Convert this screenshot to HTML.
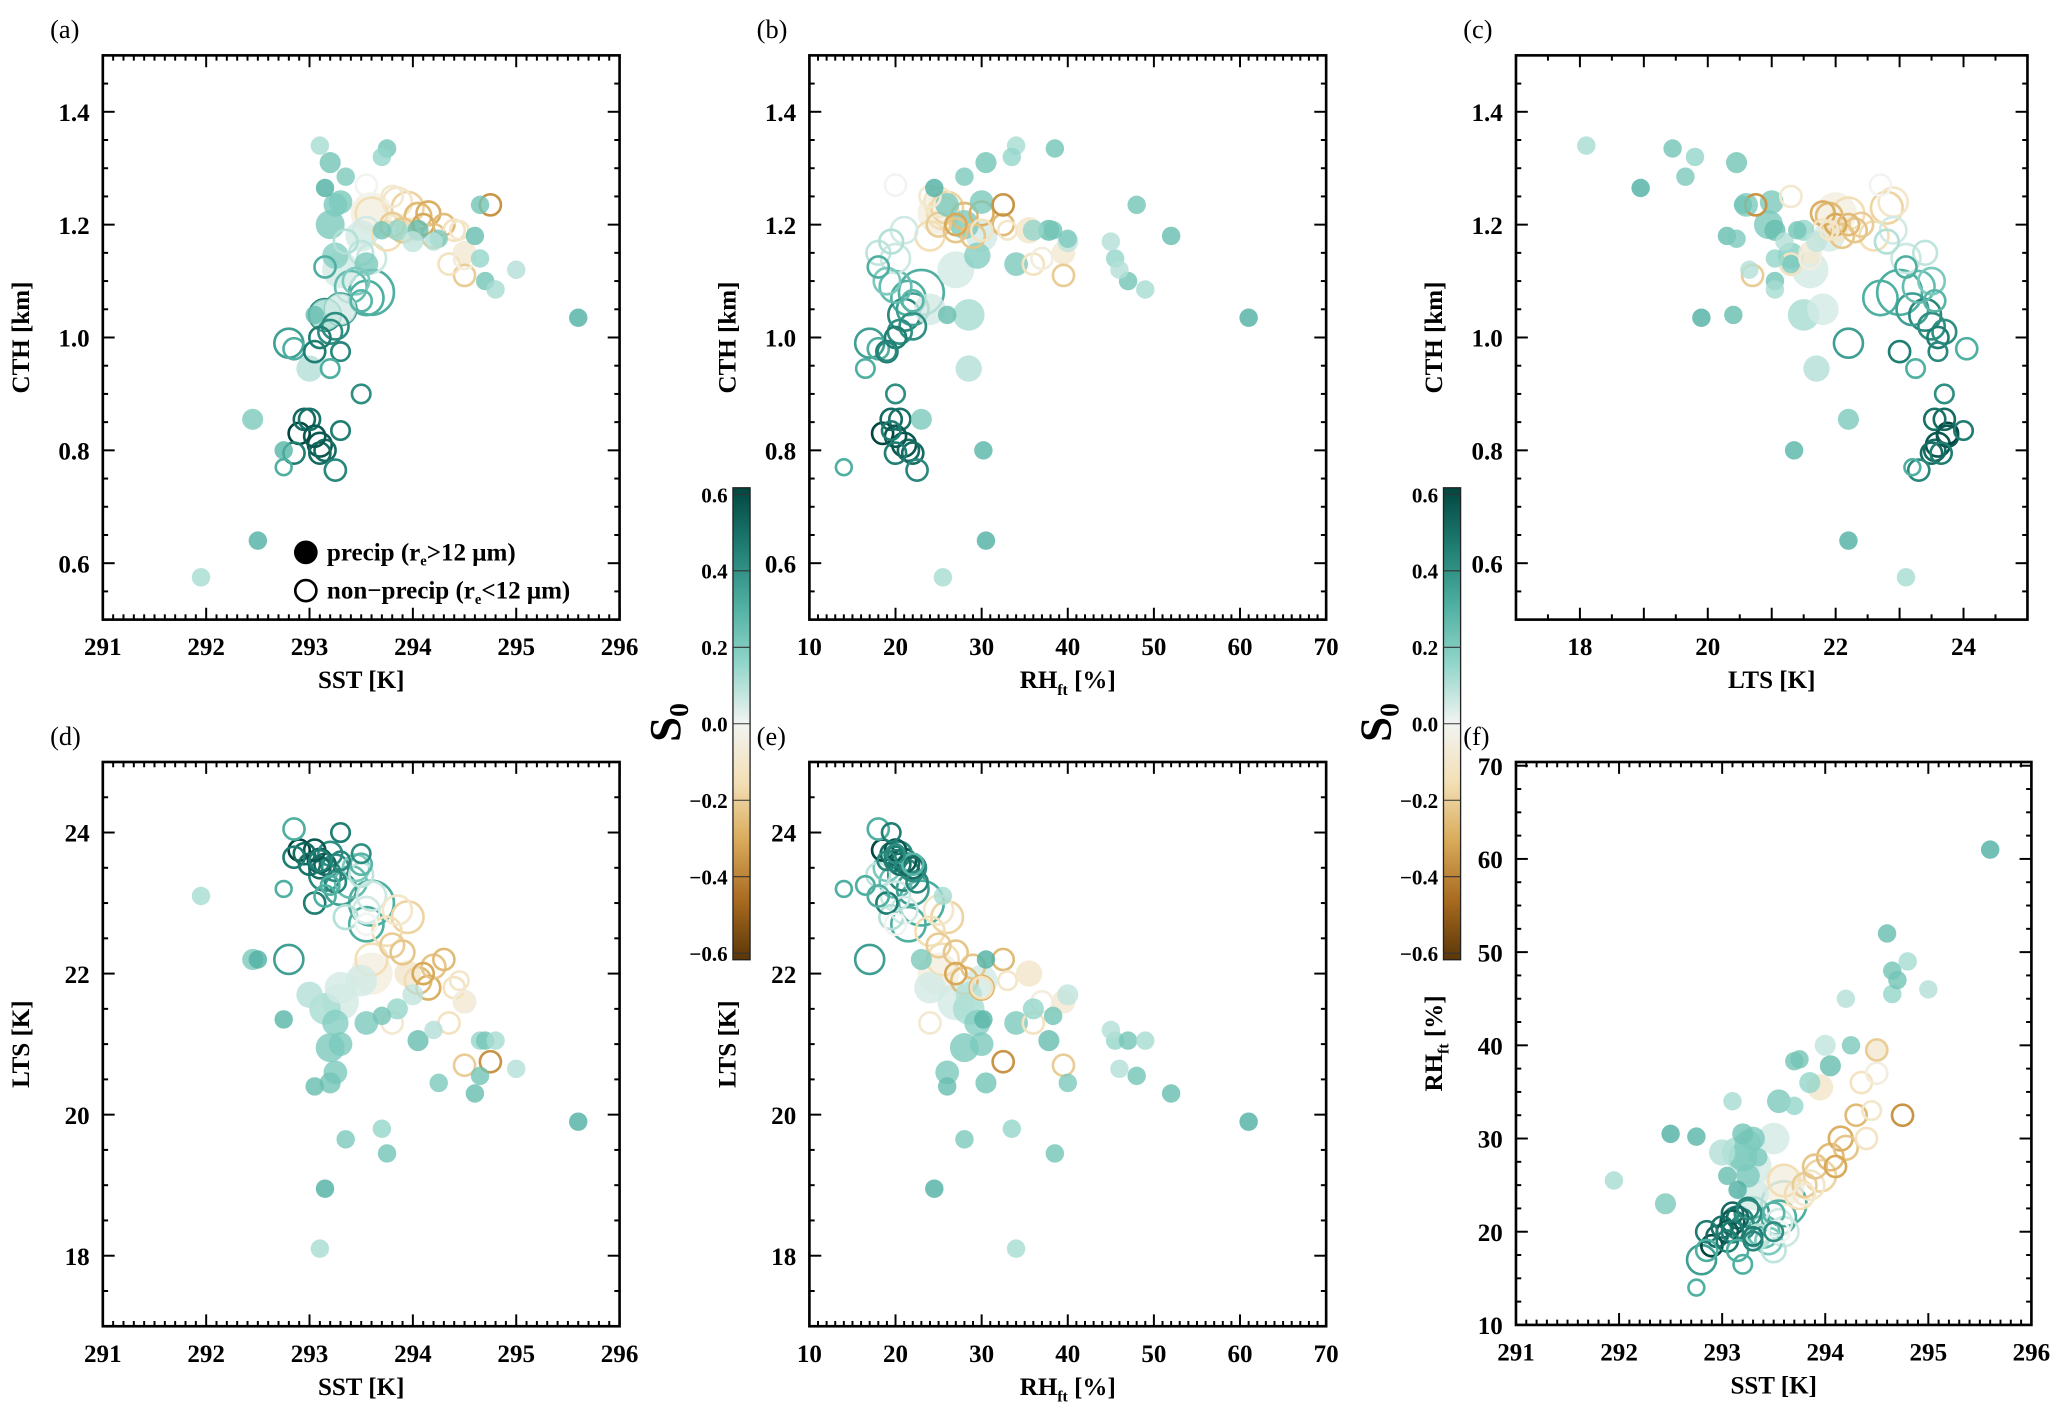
<!DOCTYPE html>
<html><head><meta charset="utf-8">
<style>
html,body{margin:0;padding:0;background:#fff;}
svg{display:block;font-family:"Liberation Serif",serif;}
</style></head>
<body>
<svg id="fig" width="2067" height="1418" viewBox="0 0 1568 1075.6" preserveAspectRatio="none" xmlns="http://www.w3.org/2000/svg">
<defs>
<linearGradient id="cbgrad" x1="0" y1="0" x2="0" y2="1">
<stop offset="0" stop-color="#01463f"/>
<stop offset="0.125" stop-color="#1f7d72"/>
<stop offset="0.25" stop-color="#4fb0a2"/>
<stop offset="0.375" stop-color="#93d6ca"/>
<stop offset="0.5" stop-color="#f2f4f2"/>
<stop offset="0.625" stop-color="#f3dfb5"/>
<stop offset="0.75" stop-color="#d8a958"/>
<stop offset="0.875" stop-color="#a86a1f"/>
<stop offset="1" stop-color="#5a3608"/>
</linearGradient>
</defs>
</svg>
<script>
// ---- data (one entry per case) ----
const sst = [291.95,292.5,292.45,292.75,295.6,293.1,293.75,293.7,293.2,293.35,293.15,293.25,294.65,294.6,294.65,294.7,294.8,295.0,293.2,293.25,293.0,293.15,293.05,294.05,294.25,294.2,293.7,293.85,294.0,293.5,293.3,293.55,293.3,293.6,294.5,293.95,293.3,
 292.9,292.95,293.0,293.1,293.15,293.1,293.05,292.85,292.75,293.25,293.3,293.5,
 292.8,292.85,293.05,293.1,293.2,293.3,293.25,293.15,293.3,293.6,293.55,293.4,293.15,293.45,293.5,293.2,
 293.5,293.6,293.55,293.35,293.55,
 293.8,293.9,293.75,294.05,294.15,294.2,294.1,293.95,293.85,294.3,294.4,294.75,294.5,294.35,294.5,293.8,294.45,293.6];
const cth = [0.575,0.64,0.855,0.80,1.035,1.34,1.335,1.32,1.31,1.285,1.265,1.235,1.235,1.18,1.14,1.10,1.085,1.12,1.20,1.145,0.945,1.04,1.04,1.19,1.175,1.17,1.19,1.19,1.17,1.18,1.12,1.13,1.24,1.22,1.15,1.19,1.05,
 0.83,0.855,0.855,0.81,0.80,0.795,0.825,0.795,0.77,0.765,0.835,0.90,
 0.99,0.98,0.975,1.0,1.01,0.975,1.02,1.04,1.05,1.08,1.07,1.09,1.125,1.10,1.065,0.945,
 1.15,1.14,1.19,1.17,1.27,
 1.20,1.19,1.18,1.215,1.22,1.18,1.20,1.23,1.24,1.20,1.19,1.235,1.11,1.13,1.14,1.25,1.19,1.22];
const rh = [25.5,30.5,23,30.2,61,34,38.5,33.5,30.5,28,24.5,26,48,52,45.5,47,49,46,28,29.5,28.5,28.5,26,37.8,40,45,38.3,36,40,30,27,34,30,25,39.5,35.5,24,
 18.5,19.5,20.5,21,21.5,22,20,20,14,22.5,19.5,20,
 17,18,19,20,20.5,19,22,21,22,23,21.5,20,18,19,22,16.5,
 18,20,21,19.5,20,
 25,27,24,28,30,29,27,26,25,32.5,30,32.5,39.5,36,37,24,33,25.5];
const lts = [23.1,22.2,22.2,21.35,19.9,18.1,19.45,19.8,20.45,19.65,18.95,20.6,20.55,20.3,21.05,21.05,21.05,20.65,20.95,21.3,21.7,21.5,20.4,21.05,20.45,21.2,21.4,21.5,21.7,21.9,21.6,21.3,21.0,22.0,21.6,22.0,21.8,
 23.75,23.7,23.55,23.6,23.55,23.5,23.75,23.65,23.2,23.3,24.0,23.7,
 22.2,24.05,23.0,23.6,23.7,23.6,23.5,23.4,23.2,23.0,22.7,23.3,23.1,23.5,23.55,23.25,
 23.4,23.1,22.9,22.8,22.7,
 22.4,22.3,22.6,21.9,21.8,22.1,22.0,22.8,22.9,22.2,21.8,20.75,20.7,21.3,21.6,21.3,21.9,22.2];
const s0 = [0.12,0.3,0.2,0.28,0.3,0.12,0.22,0.15,0.22,0.2,0.3,0.2,0.22,0.25,0.15,0.22,0.12,0.1,0.2,0.18,0.1,0.12,0.25,0.25,0.2,0.1,0.22,0.15,0.08,0.05,0.05,0.2,0.2,-0.05,-0.08,-0.1,0.05,
 0.6,0.5,0.48,0.55,0.5,0.5,0.55,0.45,0.3,0.42,0.45,0.4,
 0.35,0.3,0.45,0.45,0.4,0.42,0.4,0.42,0.35,0.3,0.3,0.25,0.3,0.2,0.28,0.3,
 0.08,0.06,0.05,0.1,0.0,
 -0.2,-0.22,-0.15,-0.25,-0.28,-0.22,-0.3,-0.18,-0.1,-0.25,-0.12,-0.35,-0.2,-0.12,-0.05,-0.08,-0.1,-0.15];
const precip = [1,1,1,1,1,1,1,1,1,1,1,1,1,1,1,1,1,1,1,1,1,1,1,1,1,1,1,1,1,1,1,1,1,1,1,1,1,
 0,0,0,0,0,0,0,0,0,0,0,0, 0,0,0,0,0,0,0,0,0,0,0,0,0,0,0,0, 0,0,0,0,0, 0,0,0,0,0,0,0,0,0,0,0,0,0,0,0,0,0,0];
const msize = [7,7,8,7,7,7,7,7,8,7,7,9,7,7,7,7,7,7,11,10,10,12,7,8,7,7,7,8,8,12,14,9,9,16,9,10,12,
 9,9,9,10,9,9,9,9,7,9,8,8,
 12,9,9,9,10,8,11,13,13,18,14,13,9,11,9,8,
 10,12,11,10,9,
 10,10,12,11,10,10,9,13,12,9,9,9,9,9,9,9,8,13];
const cbTicks = [0.6,0.4,0.2,0.0,-0.2,-0.4,-0.6];

// ---- colour map ----
const cstops = [[0.6,[1,70,63]],[0.45,[31,125,114]],[0.3,[79,176,162]],[0.15,[147,214,202]],[0.0,[242,244,242]],[-0.15,[243,223,181]],[-0.3,[216,169,88]],[-0.45,[168,106,31]],[-0.6,[90,54,8]]];
function cmap(v){
  v=Math.max(-0.6,Math.min(0.6,v));
  for(let i=0;i<cstops.length-1;i++){
    const a=cstops[i],b=cstops[i+1];
    if(v<=a[0]&&v>=b[0]){const t=(a[0]-v)/(a[0]-b[0]);
      const c=a[1].map((x,k)=>Math.round(x+(b[1][k]-x)*t));return `rgb(${c[0]},${c[1]},${c[2]})`;}
  }
  return 'rgb(242,244,242)';
}
const NS='http://www.w3.org/2000/svg';
const svg=document.getElementById('fig');
function el(tag,attrs,parent){const e=document.createElementNS(NS,tag);for(const k in attrs)e.setAttribute(k,attrs[k]);(parent||svg).appendChild(e);return e;}
function lin(d0,d1,p0,p1){return v=>p0+(v-d0)*(p1-p0)/(d1-d0);}

const vars={sst:sst,cth:cth,rh:rh,lts:lts};
const panels=[
 {id:'a',xv:'sst',yv:'cth',xd:[291,296],xp:[78,470],yd:[0.5,1.5],yp:[470,42],xmaj:1,xmin:0.1,ymaj:0.2,ymin:0.05,ylab:[0.6,0.8,1.0,1.2,1.4],yfmt:1,xt:'SST [K]',yt:'CTH [km]'},
 {id:'b',xv:'rh',yv:'cth',xd:[10,70],xp:[614,1006],yd:[0.5,1.5],yp:[470,42],xmaj:10,xmin:1,ymaj:0.2,ymin:0.05,ylab:[0.6,0.8,1.0,1.2,1.4],yfmt:1,xt:'RH',yt:'CTH [km]'},
 {id:'c',xv:'lts',yv:'cth',xd:[17,25],xp:[1150,1538],yd:[0.5,1.5],yp:[470,42],xmaj:2,xmin:0.5,ymaj:0.2,ymin:0.05,ylab:[0.6,0.8,1.0,1.2,1.4],yfmt:1,xt:'LTS [K]',yt:'CTH [km]'},
 {id:'d',xv:'sst',yv:'lts',xd:[291,296],xp:[78,470],yd:[17,25],yp:[1006,578],xmaj:1,xmin:0.1,ymaj:2,ymin:0.5,ylab:[18,20,22,24],yfmt:0,xt:'SST [K]',yt:'LTS [K]'},
 {id:'e',xv:'rh',yv:'lts',xd:[10,70],xp:[614,1006],yd:[17,25],yp:[1006,578],xmaj:10,xmin:1,ymaj:2,ymin:0.5,ylab:[18,20,22,24],yfmt:0,xt:'RH',yt:'LTS [K]'},
 {id:'f',xv:'sst',yv:'rh',xd:[291,296],xp:[1150,1541],yd:[10,70.4],yp:[1005,578],xmaj:1,xmin:0.1,ymaj:10,ymin:2.5,ylab:[10,20,30,40,50,60,70],yfmt:0,xt:'SST [K]',yt:'RH'}
];

panels.forEach(p=>{
  const g=el('g',{});
  
  
  const X=lin(p.xd[0],p.xd[1],p.xp[0],p.xp[1]), Y=lin(p.yd[0],p.yd[1],p.yp[0],p.yp[1]);
  const L=p.xp[0],R=p.xp[1],T=p.yp[1],B=p.yp[0];
  const idx=sst.map((_,i)=>i).sort((a,b)=>msize[b]-msize[a]);
  const pts=el('g',{},g);
  
  
  idx.forEach(i=>{
    const xv=vars[p.xv][i], yv=vars[p.yv][i];
    const c=cmap(s0[i]);
    let e;
    if(precip[i]) e=el('circle',{cx:X(xv),cy:Y(yv),r:msize[i],fill:c,'fill-opacity':0.8},pts);
    else e=el('circle',{cx:X(xv),cy:Y(yv),r:msize[i]-1,fill:'none',stroke:c,'stroke-width':2},pts);
    
    
  });
  const fr=el('rect',{x:L,y:T,width:R-L,height:B-T,fill:'none',stroke:'#000','stroke-width':2},g);
  
  
  const ax=el('g',{stroke:'#000','stroke-width':1.5},g);
  
  
  const nx=Math.round((p.xd[1]-p.xd[0])/p.xmin);
  for(let k=0;k<=nx;k++){
    const v=p.xd[0]+k*p.xmin;
    const major=Math.abs(v/p.xmaj-Math.round(v/p.xmaj))<1e-6 || (p.id==='c'&&Math.abs(v-Math.round(v))<1e-6);
    const len=major?9:4, x=X(v);
    el('line',{x1:x,y1:B,x2:x,y2:B-len},ax);el('line',{x1:x,y1:T,x2:x,y2:T+len},ax);
    if(Math.abs(v/p.xmaj-Math.round(v/p.xmaj))<1e-6){
      const t=el('text',{x:x,y:B+27,'text-anchor':'middle','font-size':19,'font-weight':'bold',fill:'#000',stroke:'none'},g);
      t.textContent=String(Math.round(v));
      
      
    }
  }
  const ny=Math.round((p.yd[1]-p.yd[0])/p.ymin);
  for(let k=0;k<=ny;k++){
    const v=p.yd[0]+k*p.ymin; if(v>p.yd[1]+1e-6)break;
    const major=Math.abs(v/p.ymaj-Math.round(v/p.ymaj))<1e-6;
    const len=major?9:4,y=Y(v);
    el('line',{x1:L,y1:y,x2:L+len,y2:y},ax);el('line',{x1:R,y1:y,x2:R-len,y2:y},ax);
  }
  p.ylab.forEach(v=>{
    const t=el('text',{x:L-10,y:Y(v)+7,'text-anchor':'end','font-size':19,'font-weight':'bold',fill:'#000'},g);
    t.textContent=p.yfmt?v.toFixed(1):String(v);
    
    
  });
  const xt=el('text',{x:(L+R)/2,y:B+52,'text-anchor':'middle','font-size':19,'font-weight':'bold',fill:'#000'},g);
  
  
  if(p.xt==='RH'){xt.innerHTML='RH<tspan font-size="12" dy="5">ft</tspan><tspan dy="-5"> [%]</tspan>';}else xt.textContent=p.xt;
  const yx=L-56, yy=(T+B)/2;
  const yt=el('text',{x:yx,y:yy,'text-anchor':'middle','font-size':19,'font-weight':'bold',fill:'#000',transform:`rotate(-90 ${yx} ${yy})`},g);
  
  
  if(p.yt==='RH'){yt.innerHTML='RH<tspan font-size="12" dy="5">ft</tspan><tspan dy="-5"> [%]</tspan>';}else yt.textContent=p.yt;
  const pl=el('text',{x:L-40,y:T-13,'font-size':20,fill:'#000'},g);
  pl.textContent='('+p.id+')';
  
  
});

// colorbars
[[556,'colorbar-left'],[1095,'colorbar-right']].forEach(([cx,name])=>{
  const g=el('g',{});
  
  
  const top=370,bot=728;
  el('rect',{x:cx,y:top,width:13,height:bot-top,fill:'url(#cbgrad)',stroke:'#222','stroke-width':1},g);
  const Yc=lin(0.6,-0.6,375,723);
  cbTicks.forEach(v=>{
    el('line',{x1:cx,y1:Yc(v),x2:cx+13,y2:Yc(v),stroke:'#333','stroke-width':0.8},g);
    const t=el('text',{x:cx-4,y:Yc(v)+6,'text-anchor':'end','font-size':16,'font-weight':'bold',fill:'#000'},g);
    t.textContent=(v<0?'\u2212':'')+Math.abs(v).toFixed(1);
    
    
  });
  const sx=cx-40, sy=548;
  const s=el('text',{x:sx,y:sy,'text-anchor':'middle','font-size':34,'font-weight':'bold',fill:'#000',transform:`rotate(-90 ${sx} ${sy})`},g);
  s.innerHTML='S<tspan font-size="21" dy="6">0</tspan>';
  
  
});

// legend in panel a
const lg=el('g',{});


el('circle',{cx:232,cy:419,r:9,fill:'#000'},lg);
el('circle',{cx:232,cy:448,r:8,fill:'none',stroke:'#000','stroke-width':2},lg);
const l1=el('text',{x:248,y:425,'font-size':19,'font-weight':'bold',fill:'#000'},lg);
l1.innerHTML='precip (r<tspan font-size="11" dy="4">e</tspan><tspan dy="-4">&gt;12 \u03bcm)</tspan>';


const l2=el('text',{x:248,y:454,'font-size':19,'font-weight':'bold',fill:'#000'},lg);
l2.innerHTML='non\u2212precip (r<tspan font-size="11" dy="4">e</tspan><tspan dy="-4">&lt;12 \u03bcm)</tspan>';


</script>
</body></html>
